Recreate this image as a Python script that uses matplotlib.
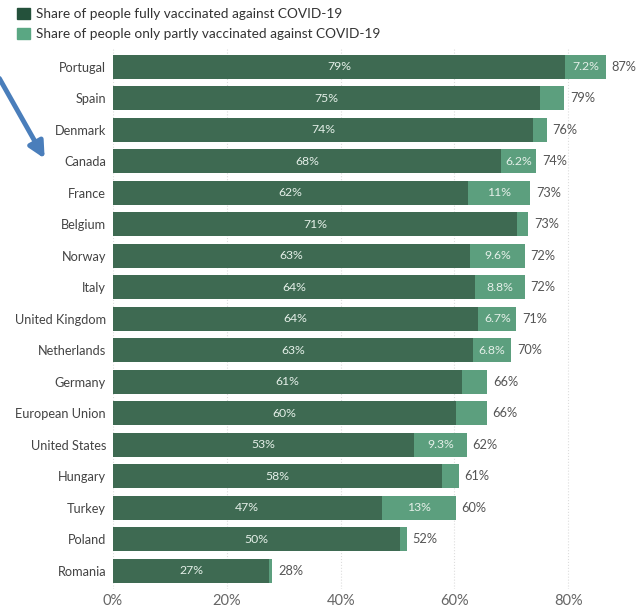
import matplotlib.pyplot as plt
from matplotlib.patches import Patch

plt.rcParams['font.family'] = ['Lato', 'DejaVu Sans']

countries = ['Portugal', 'Spain', 'Denmark', 'Canada', 'France', 'Belgium', 'Norway',
             'Italy', 'United Kingdom', 'Netherlands', 'Germany', 'European Union',
             'United States', 'Hungary', 'Turkey', 'Poland', 'Romania']
full = [79.4, 75.1, 73.8, 68.2, 62.3, 71.0, 62.8, 63.6, 64.2, 63.2, 61.4, 60.2,
        52.9, 57.8, 47.2, 50.4, 27.4]
partial = [7.2, 4.2, 2.4, 6.2, 11.0, 2.0, 9.6, 8.8, 6.7, 6.8, 4.4, 5.5,
           9.3, 3.0, 13.0, 1.2, 0.6]
ticks = [0, 20, 40, 60, 80]

dark = '#3e6a52'
light = '#5c9f7e'
txt = '#555555'

fig = plt.figure(figsize=(6.36, 6.14), dpi=100)
ax = fig.add_axes([113 / 636, 0.04, 1 - 113 / 636, 0.882])

y = range(len(countries))
ax.barh(y, full, height=0.76, color=dark)
ax.barh(y, partial, left=full, height=0.76, color=light)

for i, (f, p) in enumerate(zip(full, partial)):
    ax.text(f / 2, i, f'{f:.2g}%', ha='center', va='center', color='#e4efe8', fontsize=8.8)
    if p >= 6:
        ax.text(f + p / 2, i, f'{p:.2g}%', ha='center', va='center', color='#e4efe8', fontsize=8.8)
    ax.text(f + p + 1.0, i, f'{f + p:.2g}%', ha='left', va='center', color=txt, fontsize=9.2)

ax.set_xlim(0, 91.9)
ax.set_ylim(len(countries) - 0.4, -0.6)
ax.set_yticks(list(y), labels=countries, fontsize=9.2, color='#444444')
ax.set_xticks(ticks, labels=[f'{t}%' for t in ticks], fontsize=10.5, color='#666666')
ax.tick_params(length=0, pad=5)
ax.tick_params(axis='x', pad=3)
ax.grid(axis='x', linestyle=':', color='#dddddd', linewidth=0.8)
ax.set_axisbelow(True)
for s in ax.spines.values():
    s.set_visible(False)

handles = [Patch(color='#24513b', label='Share of people fully vaccinated against COVID-19'),
           Patch(color='#5aa783', label='Share of people only partly vaccinated against COVID-19')]
fig.legend(handles=handles, loc='upper left', bbox_to_anchor=(0.008, 1.007), frameon=False,
           fontsize=9.8, handlelength=0.9, handleheight=0.9, handletextpad=0.5,
           labelspacing=0.55, labelcolor='#333333')

ax.annotate('', xy=(46, 614 - 161), xytext=(-2, 614 - 76), xycoords='figure pixels',
            textcoords='figure pixels',
            arrowprops=dict(arrowstyle='-|>', color='#4a7ebb', lw=3.5, mutation_scale=24))

fig.savefig('out.png', dpi=100)
